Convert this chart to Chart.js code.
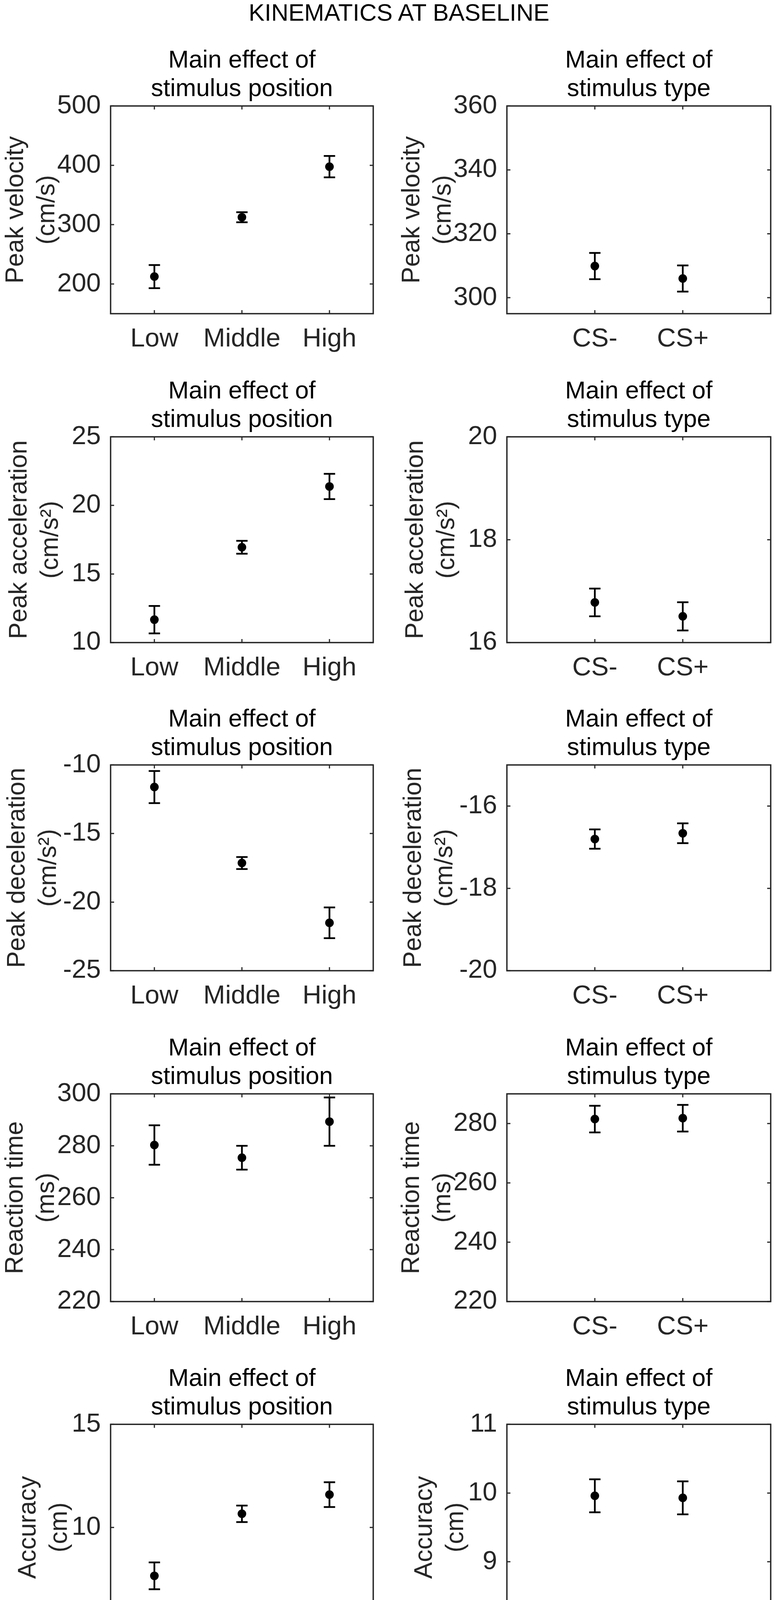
<!DOCTYPE html>
<html>
<head>
<meta charset="utf-8">
<title>Kinematics at baseline</title>
<script src="https://cdn.jsdelivr.net/npm/chart.js@4.4.0/dist/chart.umd.min.js"></script>
<style>
  body { margin: 0; background: #fff; }
  #fig { position: relative; width: 1983px; height: 4283px; overflow: hidden; background: #fff; }
  #fig canvas { position: absolute; }
  #suptitle {
    position: absolute; left: 521px; top: 2px; width: 1000px;
    text-align: center; font: 61px/61px 'Liberation Sans', Arial, sans-serif; color: #000;
  }
</style>
</head>
<body>
<div id="fig"><div id="suptitle">KINEMATICS AT BASELINE</div></div>
<script>
const FONT = "'Liberation Sans', Arial, sans-serif";
const AXIS = '#262626';

const posCats = ['Low', 'Middle', 'High'];
const typeCats = ['CS-', 'CS+'];

// means and error bar half-lengths
const velPos = [212.5, 312.5, 397.7];
const velPosErr = [19.5, 8.5, 18.0];
const velType = [309.9, 306.0];
const velTypeErr = [4.1, 4.1];

const accPos = [11.67, 16.95, 21.38];
const accPosErr = [1.0, 0.47, 0.92];
const accType = [16.78, 16.51];
const accTypeErr = [0.27, 0.275];

const decPos = [-11.61, -17.15, -21.51];
const decPosErr = [1.17, 0.44, 1.12];
const decType = [-16.80, -16.66];
const decTypeErr = [0.235, 0.24];

const rtPos = [280.3, 275.4, 289.3];
const rtPosErr = [7.6, 4.6, 9.3];
const rtType = [281.5, 281.8];
const rtTypeErr = [4.5, 4.5];

const errPos = [7.65, 10.66, 11.59];
const errPosErr = [0.65, 0.4, 0.6];
const errType = [9.96, 9.93];
const errTypeErr = [0.24, 0.24];

// y tick labels
const velPosTicks = [200, 300, 400, 500];
const velTypeTicks = [300, 320, 340, 360];
const accPosTicks = [10, 15, 20, 25];
const accTypeTicks = [16, 18, 20];
const decPosTicks = [-25, -20, -15, -10];
const decTypeTicks = [-20, -18, -16];
const rtPosTicks = [220, 240, 260, 280, 300];
const rtTypeTicks = [220, 240, 260, 280];
const errPosTicks = [5, 10, 15];
const errTypeTicks = [8, 9, 10, 11];

const titlePos = ['Main effect of', 'stimulus position'];
const titleType = ['Main effect of', 'stimulus type'];

const panels = [
  { row: 0, col: 0, cats: posCats, mean: velPos, err: velPosErr, ylim: [150, 500], ticks: velPosTicks, label: ['Peak velocity', '(cm/s)'] },
  { row: 0, col: 1, cats: typeCats, mean: velType, err: velTypeErr, ylim: [295, 360], ticks: velTypeTicks, label: ['Peak velocity', '(cm/s)'] },
  { row: 1, col: 0, cats: posCats, mean: accPos, err: accPosErr, ylim: [10, 25], ticks: accPosTicks, label: ['Peak acceleration', '(cm/s\u00B2)'] },
  { row: 1, col: 1, cats: typeCats, mean: accType, err: accTypeErr, ylim: [16, 20], ticks: accTypeTicks, label: ['Peak acceleration', '(cm/s\u00B2)'] },
  { row: 2, col: 0, cats: posCats, mean: decPos, err: decPosErr, ylim: [-25, -10], ticks: decPosTicks, label: ['Peak deceleration', '(cm/s\u00B2)'] },
  { row: 2, col: 1, cats: typeCats, mean: decType, err: decTypeErr, ylim: [-20, -15], ticks: decTypeTicks, label: ['Peak deceleration', '(cm/s\u00B2)'] },
  { row: 3, col: 0, cats: posCats, mean: rtPos, err: rtPosErr, ylim: [220, 300], ticks: rtPosTicks, label: ['Reaction time', '(ms)'] },
  { row: 3, col: 1, cats: typeCats, mean: rtType, err: rtTypeErr, ylim: [220, 290], ticks: rtTypeTicks, label: ['Reaction time', '(ms)'] },
  { row: 4, col: 0, cats: posCats, mean: errPos, err: errPosErr, ylim: [5, 15], ticks: errPosTicks, label: ['Accuracy', '(cm)'] },
  { row: 4, col: 1, cats: typeCats, mean: errType, err: errTypeErr, ylim: [8, 11], ticks: errTypeTicks, label: ['Accuracy', '(cm)'] }
];

// page layout
const rowTops = [271, 1118, 1958, 2800, 3646];
const rowBottoms = [803, 1645, 2485, 3332, 4174];
const yTitlePad = [1, 10, 5, 0, 33];
const colLeft = [0, 1014];
const colWidth = [1000, 969];
const colPadRight = [45, 10];
const TOP_SPACE = 170, BOTTOM_SPACE = 130, Y_AXIS_W = 283;

// MATLAB style box with inward ticks on all four sides
const matlabBox = {
  id: 'matlabBox',
  afterDatasetsDraw(chart) {
    const { ctx, chartArea: a, scales: { x, y } } = chart;
    ctx.save();
    ctx.strokeStyle = AXIS;
    ctx.lineWidth = 3.5;
    ctx.strokeRect(a.left, a.top, a.right - a.left, a.bottom - a.top);
    ctx.lineWidth = 3;
    ctx.beginPath();
    x.ticks.forEach(t => {
      const px = x.getPixelForValue(t.value);
      ctx.moveTo(px, a.bottom); ctx.lineTo(px, a.bottom - 9);
      ctx.moveTo(px, a.top); ctx.lineTo(px, a.top + 9);
    });
    y.ticks.forEach(t => {
      const py = y.getPixelForValue(t.value);
      ctx.moveTo(a.left, py); ctx.lineTo(a.left + 9, py);
      ctx.moveTo(a.right, py); ctx.lineTo(a.right - 9, py);
    });
    ctx.stroke();
    ctx.restore();
  }
};

const errorBars = {
  id: 'errorBars',
  beforeDatasetsDraw(chart) {
    const { ctx, scales: { x, y } } = chart;
    chart.data.datasets.forEach(ds => {
      ctx.save();
      ctx.strokeStyle = '#000';
      ctx.lineWidth = 4.5;
      ctx.beginPath();
      ds.data.forEach((p, i) => {
        const px = x.getPixelForValue(p.x);
        const hi = y.getPixelForValue(p.y + ds.errors[i]);
        const lo = y.getPixelForValue(p.y - ds.errors[i]);
        ctx.moveTo(px, hi); ctx.lineTo(px, lo);
        ctx.moveTo(px - 14.5, hi); ctx.lineTo(px + 14.5, hi);
        ctx.moveTo(px - 14.5, lo); ctx.lineTo(px + 14.5, lo);
      });
      ctx.stroke();
      ctx.restore();
    });
  }
};

const fig = document.getElementById('fig');

panels.forEach(p => {
  const plotH = rowBottoms[p.row] - rowTops[p.row];
  const canvas = document.createElement('canvas');
  canvas.width = colWidth[p.col];
  canvas.height = TOP_SPACE + plotH + BOTTOM_SPACE;
  canvas.style.left = colLeft[p.col] + 'px';
  canvas.style.top = (rowTops[p.row] - TOP_SPACE) + 'px';
  fig.appendChild(canvas);

  const cats = p.cats;
  const xlim = cats.length === 3 ? [0.5, 3.5] : [0, 3];

  new Chart(canvas, {
    type: 'scatter',
    data: {
      datasets: [{
        data: p.mean.map((v, i) => ({ x: i + 1, y: v })),
        errors: p.err,
        pointRadius: 11,
        pointHoverRadius: 11,
        pointBackgroundColor: '#000',
        pointBorderWidth: 0,
        showLine: false
      }]
    },
    options: {
      responsive: false,
      devicePixelRatio: 1,
      animation: false,
      events: [],
      layout: { padding: { top: 19, left: 0, right: colPadRight[p.col], bottom: 0 } },
      plugins: {
        legend: { display: false },
        tooltip: { enabled: false },
        title: {
          display: true,
          text: p.col === 0 ? titlePos : titleType,
          fullSize: false,
          color: '#000',
          font: { family: FONT, size: 63, weight: 'normal', lineHeight: 1.145 },
          padding: { top: 0, bottom: 7 }
        }
      },
      scales: {
        x: {
          type: 'linear',
          min: xlim[0],
          max: xlim[1],
          grid: { display: false, drawTicks: false },
          border: { display: false },
          afterBuildTicks: s => { s.ticks = cats.map((c, i) => ({ value: i + 1 })); },
          afterFit: s => { s.height = BOTTOM_SPACE; },
          ticks: {
            autoSkip: false,
            maxRotation: 0,
            padding: 25,
            color: AXIS,
            font: { family: FONT, size: 67 },
            callback: v => cats[v - 1]
          }
        },
        y: {
          type: 'linear',
          min: p.ylim[0],
          max: p.ylim[1],
          grid: { display: false, drawTicks: false },
          border: { display: false },
          afterBuildTicks: s => { s.ticks = p.ticks.map(v => ({ value: v })); },
          afterFit: s => { s.width = Y_AXIS_W; },
          ticks: {
            padding: 25,
            color: AXIS,
            font: { family: FONT, size: 67 },
            callback: v => String(v)
          },
          title: {
            display: true,
            text: p.label,
            color: AXIS,
            font: { family: FONT, size: 64, lineHeight: 1.25 },
            padding: { top: yTitlePad[p.row], bottom: 0 }
          }
        }
      }
    },
    plugins: [errorBars, matlabBox]
  });
});
</script>
</body>
</html>
